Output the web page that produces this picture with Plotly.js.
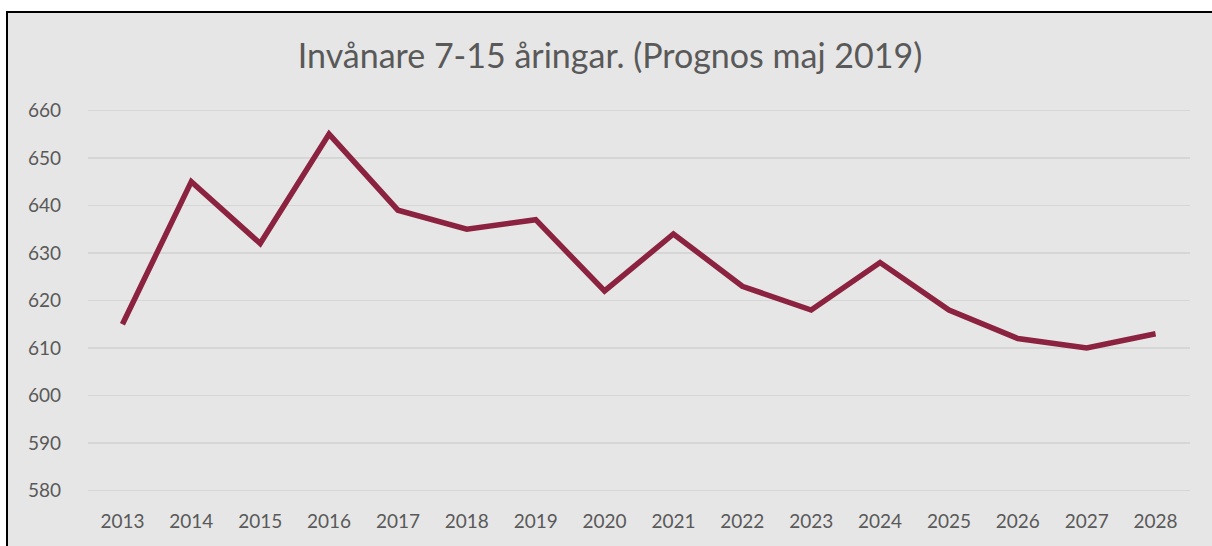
<!DOCTYPE html>
<html>
<head>
<meta charset="utf-8">
<script src="https://cdn.plot.ly/plotly-3.0.1.min.js"></script>
<style>
  html, body { margin: 0; padding: 0; background: #ffffff; width: 1212px; height: 546px; overflow: hidden; }
  #frame { position: absolute; left: 6px; top: 11px; width: 1206px; height: 540px; background: #e6e6e6; border-left: 2px solid #000; border-top: 2px solid #000; box-sizing: border-box; }
  #chart { width: 1204px; height: 538px; }
</style>
</head>
<body>
<div id="frame"><div id="chart"></div></div>
<script>
const years = ['2013','2014','2015','2016','2017','2018','2019','2020','2021','2022','2023','2024','2025','2026','2027','2028'];
const invanare = [615, 645, 632, 655, 639, 635, 637, 622, 634, 623, 618, 628, 618, 612, 610, 613];
const yTicks = [580, 590, 600, 610, 620, 630, 640, 650, 660];
const titleText = 'Invånare 7-15 åringar. (Prognos maj 2019)';

const font = 'Lato, "Open Sans", sans-serif';
Plotly.newPlot('chart', [{
  x: years,
  y: invanare,
  type: 'scatter',
  mode: 'lines',
  line: { color: '#8b2240', width: 5.5 },
  hoverinfo: 'x+y'
}], {
  width: 1204, height: 538,
  paper_bgcolor: '#e6e6e6',
  plot_bgcolor: '#e6e6e6',
  margin: { l: 80, r: 22, t: 95, b: 58 },
  showlegend: false,
  title: { text: titleText, font: { family: font, size: 34, color: '#595959' }, x: 0.5, xanchor: 'center', y: 0.92, yanchor: 'middle' },
  xaxis: {
    type: 'category',
    range: [-0.5, 15.5],
    showgrid: false, showline: false, zeroline: false,
    ticks: '', ticklabelstandoff: 15,
    tickfont: { family: font, size: 19, color: '#595959' }
  },
  yaxis: {
    range: [579.5, 660.5],
    tickvals: yTicks,
    showgrid: true, gridcolor: '#d6d6d6', gridwidth: 1.5,
    showline: false, zeroline: false,
    ticks: '', ticklabelstandoff: 26,
    tickfont: { family: font, size: 19, color: '#595959' }
  }
}, { displayModeBar: false, staticPlot: true });
</script>
</body>
</html>
